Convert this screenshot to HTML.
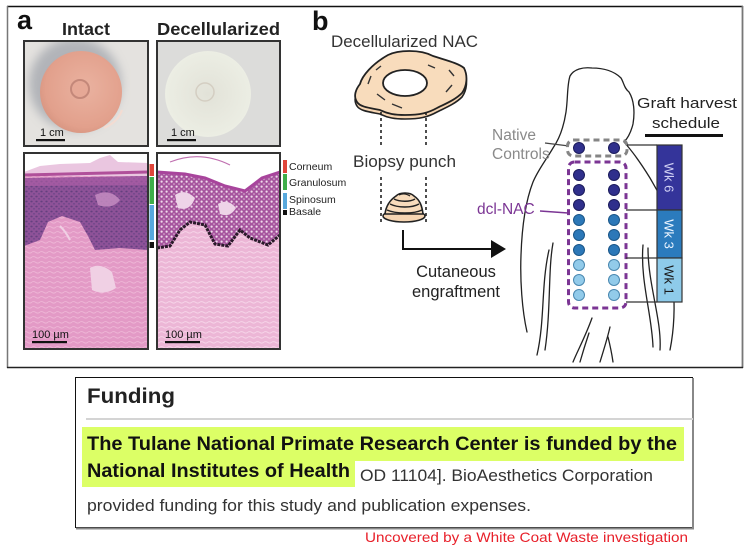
<!DOCTYPE html>
<html><head><meta charset="utf-8"><style>
html,body{margin:0;padding:0;background:#fff;}
svg{display:block;}
text{font-family:"Liberation Sans",Arial,sans-serif;}
</style></head><body>
<svg width="750" height="548" viewBox="0 0 750 548" xmlns="http://www.w3.org/2000/svg">
<defs>
<radialGradient id="pink" cx="0.55" cy="0.45" r="0.6"><stop offset="0" stop-color="#eab2a0"/><stop offset="0.8" stop-color="#e2a08c"/><stop offset="1" stop-color="#d69480"/></radialGradient>
<radialGradient id="pale" cx="0.5" cy="0.5" r="0.6"><stop offset="0" stop-color="#e2e2d8"/><stop offset="0.85" stop-color="#eceee4"/><stop offset="1" stop-color="#f4f4f0"/></radialGradient>
<filter id="blur3"><feGaussianBlur stdDeviation="5"/></filter>
<pattern id="nuclei" width="5" height="5" patternUnits="userSpaceOnUse"><rect width="5" height="5" fill="#8e5298"/><ellipse cx="1.5" cy="1.5" rx="1.2" ry="0.9" fill="#64407f"/><ellipse cx="4" cy="3.8" rx="1" ry="0.8" fill="#6e468a"/></pattern>
<pattern id="holes" width="5" height="5" patternUnits="userSpaceOnUse"><rect width="5" height="5" fill="#a6559e"/><circle cx="1.6" cy="1.6" r="1.1" fill="#f0dcec"/><circle cx="4" cy="4" r="0.8" fill="#e2bcd8"/></pattern>
<pattern id="dermis" width="8" height="5" patternUnits="userSpaceOnUse"><rect width="8" height="5" fill="#e39ac6"/><path d="M0 2 Q2 1 4 2.5 T8 2" stroke="#eeb6d6" stroke-width="0.9" fill="none"/></pattern>
<pattern id="dermis2" width="8" height="5" patternUnits="userSpaceOnUse"><rect width="8" height="5" fill="#ecb6d6"/><path d="M0 2 Q2 1 4 2.5 T8 2" stroke="#f6d4e8" stroke-width="1" fill="none"/></pattern>
<clipPath id="h1"><rect x="24" y="153" width="124" height="196"/></clipPath>
<clipPath id="h2"><rect x="157" y="153" width="123" height="196"/></clipPath>
<clipPath id="p1"><rect x="24" y="41" width="124" height="105"/></clipPath>
<clipPath id="p2"><rect x="157" y="41" width="123" height="105"/></clipPath>
</defs>

<!-- top figure frame -->
<rect x="7" y="6" width="735" height="362" fill="#fff"/>
<line x1="7" y1="6.5" x2="743" y2="6.5" stroke="#111" stroke-width="1.5"/>
<line x1="7.5" y1="6" x2="7.5" y2="368" stroke="#777" stroke-width="1.5"/>
<line x1="742.5" y1="6" x2="742.5" y2="368" stroke="#777" stroke-width="1.8"/>
<line x1="7" y1="367.5" x2="743" y2="367.5" stroke="#222" stroke-width="1.5"/>

<!-- panel a labels -->
<text x="17" y="29" font-size="27" font-weight="bold" fill="#111">a</text>
<text x="62" y="35" font-size="17.5" font-weight="bold" fill="#222" textLength="48" lengthAdjust="spacingAndGlyphs">Intact</text>
<text x="157" y="35" font-size="17.5" font-weight="bold" fill="#222" textLength="123" lengthAdjust="spacingAndGlyphs">Decellularized</text>

<!-- photo intact -->
<g clip-path="url(#p1)">
<rect x="24" y="41" width="124" height="105" fill="#e4e2df"/>
<circle cx="75" cy="84" r="46" fill="#9ca0a8" opacity="0.7" filter="url(#blur3)"/>
<circle cx="81" cy="92" r="41" fill="url(#pink)"/>
<circle cx="80" cy="89" r="9" fill="#e6a896" stroke="#c4887a" stroke-width="2"/>
<path d="M104 128 Q118 122 122 110" stroke="#f4dcd2" stroke-width="2" fill="none"/>
</g>
<rect x="24" y="41" width="124" height="105" fill="none" stroke="#333" stroke-width="2"/>
<text x="40" y="136" font-size="11" fill="#111">1 cm</text>
<rect x="36" y="139" width="29" height="2.2" fill="#111"/>

<!-- photo decell -->
<g clip-path="url(#p2)">
<rect x="157" y="41" width="123" height="105" fill="#dcdcda"/>
<circle cx="208" cy="94" r="43" fill="url(#pale)"/>
<circle cx="205" cy="92" r="9" fill="none" stroke="#d4cec2" stroke-width="1.5"/>
</g>
<rect x="157" y="41" width="123" height="105" fill="none" stroke="#333" stroke-width="2"/>
<text x="171" y="136" font-size="11" fill="#111">1 cm</text>
<rect x="167" y="139" width="29" height="2.2" fill="#111"/>

<!-- histology left -->
<g clip-path="url(#h1)">
<rect x="24" y="153" width="124" height="196" fill="url(#dermis)"/>
<rect x="24" y="153" width="124" height="20" fill="#fff"/>
<path d="M24 172 L40 166 L60 164 L90 163 L100 158 L110 155 L118 162 L148 163 L148 176 L24 176 Z" fill="#eac6e0"/>
<path d="M24 175 L148 172" stroke="#b0509a" stroke-width="3"/>
<path d="M24 178 L148 176 L148 250 L120 248 L95 250 L88 236 L80 222 L62 216 L48 222 L40 240 L24 246 Z" fill="url(#nuclei)"/>
<path d="M24 178 L148 176 L148 185 L24 186 Z" fill="#b060a8" opacity="0.6"/>
<path d="M95 195 Q110 188 120 200 Q112 210 98 205 Z" fill="#c890c4" opacity="0.8"/>
<path d="M90 268 Q100 262 112 272 L116 288 Q104 296 92 290 Z" fill="#f0d0e4"/>
<path d="M60 226 Q66 232 70 240" stroke="#f0d0e4" stroke-width="2" fill="none"/>
</g>
<rect x="24" y="153" width="124" height="196" fill="none" stroke="#333" stroke-width="2"/>
<text x="32" y="338" font-size="11" fill="#111">100 µm</text>
<rect x="32" y="341" width="35" height="2.2" fill="#111"/>

<!-- histology right -->
<g clip-path="url(#h2)">
<rect x="157" y="153" width="123" height="196" fill="url(#dermis2)"/>
<path d="M157 153 H280 V172 L262 178 L245 191 L225 186 L205 178 L185 174 L157 172 Z" fill="#fff"/>
<path d="M157 172 L185 174 L205 178 L225 186 L245 191 L262 178 L280 172 L280 235 L268 245 L250 238 L240 230 L228 246 L215 244 L205 225 L190 222 L180 230 L170 246 L157 248 Z" fill="url(#holes)"/>
<path d="M157 172 L185 174 L205 178 L225 186 L245 191 L262 178 L280 172" stroke="#a8449c" stroke-width="3" fill="none"/>
<path d="M157 248 L170 246 L180 230 L190 222 L205 225 L215 244 L228 246 L240 230 L250 238 L268 245 L280 235" stroke="#2a1a2a" stroke-width="3" fill="none" stroke-dasharray="3 1"/>
<path d="M175 195 Q185 188 195 198 Q190 212 178 208 Z" fill="#eed4e8"/>
<path d="M218 204 Q228 198 236 208 Q230 218 220 214 Z" fill="#eed4e8"/>
<path d="M170 162 Q200 150 230 165" stroke="#c070b0" stroke-width="1.2" fill="none"/>
</g>
<rect x="157" y="153" width="123" height="196" fill="none" stroke="#333" stroke-width="2"/>
<text x="165" y="338" font-size="11" fill="#111">100 µm</text>
<rect x="165" y="341" width="35" height="2.2" fill="#111"/>

<!-- left color bar -->
<rect x="149.5" y="164" width="4.5" height="12" fill="#e0453a"/>
<rect x="149.5" y="177" width="4.5" height="27" fill="#3fae4a"/>
<rect x="149.5" y="205" width="4.5" height="35" fill="#58a8dc"/>
<rect x="149.5" y="242" width="4.5" height="6" fill="#111"/>
<!-- legend -->
<rect x="283" y="160" width="4" height="13" fill="#e0453a"/>
<rect x="283" y="174" width="4" height="16" fill="#3fae4a"/>
<rect x="283" y="193" width="4" height="16" fill="#58a8dc"/>
<rect x="283" y="210" width="4" height="5" fill="#111"/>
<text x="289" y="170" font-size="10.5" fill="#222">Corneum</text>
<text x="289" y="186" font-size="10.5" fill="#222">Granulosum</text>
<text x="289" y="203" font-size="10.5" fill="#222">Spinosum</text>
<text x="289" y="215" font-size="10.5" fill="#222">Basale</text>

<!-- panel b -->
<text x="312" y="30" font-size="27" font-weight="bold" fill="#111">b</text>
<text x="331" y="47" font-size="16.5" fill="#333" textLength="147" lengthAdjust="spacingAndGlyphs">Decellularized NAC</text>

<!-- NAC blob -->
<path d="M388 59 C398 54 420 53 433 60 C445 64 458 67 464 72 C468 80 467 90 462 97 C455 104 445 108 437 112 C428 117 420 119 405 119 C395 119 388 118 380 114 C370 112 360 111 357 106 C353 100 356 93 360 88 C362 80 372 68 388 59 Z" fill="#f6d5b2" stroke="#222" stroke-width="1.6"/>
<path d="M388 55 C398 50 420 49 433 56 C445 60 458 63 464 68 C468 76 467 86 462 93 C455 100 445 104 437 108 C428 113 420 115 405 115 C395 115 388 114 380 110 C370 108 360 107 357 102 C353 96 356 89 360 84 C362 76 372 64 388 55 Z" fill="#f8dcbc" stroke="#222" stroke-width="1.8"/>
<ellipse cx="405" cy="83" rx="22" ry="13" fill="#fff" stroke="#222" stroke-width="1.8"/>
<path d="M371 76 L368 84 M377 94 L385 100 M392 104 L402 108 M446 92 L452 85 M449 70 L454 76 M381 66 L376 70 M428 65 L435 68" stroke="#333" stroke-width="1.4"/>
<!-- dotted guide lines -->
<line x1="381" y1="112" x2="381" y2="147" stroke="#222" stroke-width="1.6" stroke-dasharray="3 3"/>
<line x1="426" y1="112" x2="426" y2="147" stroke="#222" stroke-width="1.6" stroke-dasharray="3 3"/>
<line x1="381" y1="177" x2="381" y2="224" stroke="#222" stroke-width="1.6" stroke-dasharray="3 3"/>
<line x1="426" y1="177" x2="426" y2="224" stroke="#222" stroke-width="1.6" stroke-dasharray="3 3"/>
<text x="353" y="167" font-size="16.5" fill="#333" textLength="103" lengthAdjust="spacingAndGlyphs">Biopsy punch</text>
<!-- punch cone -->
<ellipse cx="404" cy="216" rx="21" ry="6" fill="#f6d5b2" stroke="#222" stroke-width="1.6"/>
<path d="M385 214 C386 206 390 200 396 196 C400 192 410 192 414 196 C420 200 422 206 423 214 Z" fill="#f8dcbc" stroke="#222" stroke-width="1.6"/>
<path d="M387 210 C396 214 414 214 422 210 M390 204 C398 208 412 208 419 204 M394 199 C400 202 410 202 415 199" stroke="#222" stroke-width="1.4" fill="none"/>
<path d="M399 195 C403 193 407 194 410 196" stroke="#222" stroke-width="1.2" fill="none"/>
<!-- arrow -->
<path d="M403 230 V249 H492" stroke="#111" stroke-width="2" fill="none"/>
<path d="M491 240 L506 249 L491 258 Z" fill="#111"/>
<text x="456" y="277" font-size="16.5" fill="#222" text-anchor="middle">Cutaneous</text>
<text x="456" y="297" font-size="16.5" fill="#222" text-anchor="middle">engraftment</text>

<!-- monkey outline -->
<g stroke="#222" stroke-width="1.3" fill="none" stroke-linecap="round">
<path d="M527 332 C522 310 520 280 521 255 C522 225 526 200 533 182 C538 170 546 160 553 148 C560 138 564 125 566 112 C568 98 567 85 570 76 C574 69 583 67 592 68 C603 68 614 71 621 78 C624 83 624 88 629 92 C634 100 635 112 633 124 C631 132 628 138 624 142 C633 152 642 165 650 178 C654 185 657 190 660 196"/>
<path d="M553 243 C548 270 551 310 545 350"/>
<path d="M549 250 C541 285 545 320 537 355"/>
<path d="M643 245 C640 280 652 315 653 347"/>
<path d="M648 248 C648 285 662 320 660 350"/>
<path d="M673 282 C675 305 674 330 670 350"/>
<path d="M592 318 C586 335 578 350 573 362"/>
<path d="M589 333 C585 345 582 355 580 362"/>
<path d="M610 327 C607 340 603 352 600 362"/>
<path d="M608 337 C610 345 612 355 613 362"/>
</g>

<!-- Native controls -->
<text x="492" y="140" font-size="15.5" fill="#8a8a8a">Native</text>
<text x="492" y="159" font-size="15.5" fill="#8a8a8a">Controls</text>
<line x1="545" y1="143" x2="569" y2="146" stroke="#444" stroke-width="1.3"/>
<rect x="567.5" y="140" width="59.5" height="16" rx="6" fill="none" stroke="#858585" stroke-width="3" stroke-dasharray="6 4"/>
<!-- dcl-NAC -->
<text x="477" y="214" font-size="15.5" fill="#7b3594">dcl-NAC</text>
<path d="M540 211 L568 213" stroke="#7b3594" stroke-width="1.5"/>
<rect x="568.5" y="162" width="57.5" height="146" rx="6" fill="none" stroke="#7b3594" stroke-width="3" stroke-dasharray="6 4"/>

<!-- dots -->
<g stroke-width="1">
<g fill="#30308c" stroke="#1c1c5c">
<circle cx="579" cy="148" r="5.5"/><circle cx="614" cy="148" r="5.5"/>
<circle cx="579" cy="175" r="5.5"/><circle cx="614" cy="175" r="5.5"/>
<circle cx="579" cy="190" r="5.5"/><circle cx="614" cy="190" r="5.5"/>
<circle cx="579" cy="205" r="5.5"/><circle cx="614" cy="205" r="5.5"/>
</g>
<g fill="#2c78b8" stroke="#1a5688">
<circle cx="579" cy="220" r="5.5"/><circle cx="614" cy="220" r="5.5"/>
<circle cx="579" cy="235" r="5.5"/><circle cx="614" cy="235" r="5.5"/>
<circle cx="579" cy="250" r="5.5"/><circle cx="614" cy="250" r="5.5"/>
</g>
<g fill="#92cbea" stroke="#4a88b0">
<circle cx="579" cy="265" r="5.5"/><circle cx="614" cy="265" r="5.5"/>
<circle cx="579" cy="280" r="5.5"/><circle cx="614" cy="280" r="5.5"/>
<circle cx="579" cy="295" r="5.5"/><circle cx="614" cy="295" r="5.5"/>
</g>
</g>

<!-- connectors -->
<g stroke="#333" stroke-width="1.3">
<line x1="627" y1="145" x2="657" y2="145"/>
<line x1="626" y1="210" x2="657" y2="210"/>
<line x1="626" y1="258" x2="657" y2="258"/>
<line x1="626" y1="302" x2="657" y2="302"/>
</g>

<!-- schedule bar -->
<text x="637" y="108" font-size="15" fill="#222" textLength="100" lengthAdjust="spacingAndGlyphs">Graft harvest</text>
<text x="652" y="128" font-size="15" fill="#222" textLength="68" lengthAdjust="spacingAndGlyphs">schedule</text>
<rect x="645" y="134" width="78" height="3" fill="#111"/>
<rect x="657" y="145" width="25" height="65" fill="#34349a" stroke="#333" stroke-width="1.2"/>
<rect x="657" y="210" width="25" height="48" fill="#2b7bbd" stroke="#333" stroke-width="1.2"/>
<rect x="657" y="258" width="25" height="44" fill="#8ecbea" stroke="#333" stroke-width="1.2"/>
<text transform="translate(664.5,177.5) rotate(90)" font-size="13" fill="#d0d0f4" text-anchor="middle">Wk 6</text>
<text transform="translate(664.5,234) rotate(90)" font-size="13" fill="#eaf4ff" text-anchor="middle">Wk 3</text>
<text transform="translate(664.5,280) rotate(90)" font-size="13" fill="#1a1a1a" text-anchor="middle">Wk 1</text>

<!-- Funding box -->
<rect x="75.5" y="377.5" width="617" height="150" fill="#fff" stroke="#111" stroke-width="1"/>
<line x1="693" y1="378" x2="693" y2="529" stroke="#888" stroke-width="2"/>
<line x1="76" y1="528.5" x2="694" y2="528.5" stroke="#888" stroke-width="2"/>
<text x="87" y="403" font-size="21" font-weight="bold" fill="#222" textLength="88" lengthAdjust="spacingAndGlyphs">Funding</text>
<rect x="86" y="418" width="607" height="2" fill="#d4d4d4"/>
<rect x="82" y="427" width="602" height="34" fill="#dcff66"/>
<rect x="82" y="461" width="273" height="26" fill="#dcff66"/>
<text x="87" y="450" font-size="19" font-weight="bold" fill="#111" textLength="590" lengthAdjust="spacingAndGlyphs">The Tulane National Primate Research Center is funded by the</text>
<text x="87" y="477" font-size="19" font-weight="bold" fill="#111" textLength="263" lengthAdjust="spacingAndGlyphs">National Institutes of Health</text>
<text x="360" y="481" font-size="16.5" fill="#333" textLength="293" lengthAdjust="spacingAndGlyphs">OD 11104]. BioAesthetics Corporation</text>
<text x="87" y="511" font-size="16.5" fill="#333" textLength="444" lengthAdjust="spacingAndGlyphs">provided funding for this study and publication expenses.</text>
<text x="365" y="542" font-size="14" fill="#e8202a" textLength="323" lengthAdjust="spacingAndGlyphs">Uncovered by a White Coat Waste investigation</text>
</svg>
</body></html>
